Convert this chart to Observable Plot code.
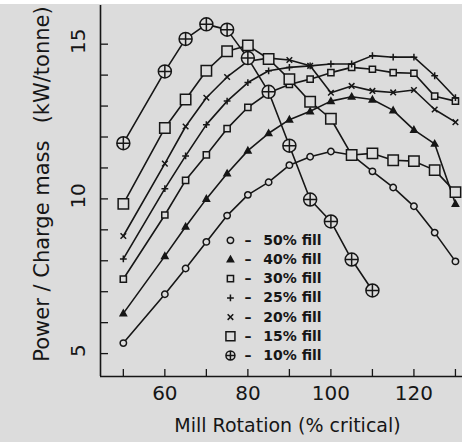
<!DOCTYPE html>
<html>
<head>
<meta charset="utf-8">
<script src="https://cdn.jsdelivr.net/npm/d3@7"></script>
<script src="https://cdn.jsdelivr.net/npm/@observablehq/plot@0.6"></script>
<style>
  html, body { margin: 0; padding: 0; background: #dcdcdc; }
  #chart { width: 462px; height: 442px; border-top: 4px solid #ffffff; box-sizing: border-box; }
  svg { display: block; }
</style>
</head>
<body>
<div id="chart"></div>
<script>
// ---- data ----
const rotation = [50, 60, 65, 70, 75, 80, 85, 90, 95, 100, 105, 110, 115, 120, 125, 130];
const fill50 = [5.34, 6.92, 7.75, 8.61, 9.46, 10.13, 10.54, 11.09, 11.36, 11.53, 11.42, 10.89, 10.37, 9.76, 8.91, 7.98];
const fill40 = [6.30, 8.15, 9.10, 10.00, 10.82, 11.56, 12.12, 12.56, 12.83, 13.16, 13.30, 13.21, 12.86, 12.23, 11.78, 9.84];
const fill30 = [7.41, 9.48, 10.60, 11.42, 12.27, 12.96, 13.43, 13.70, 13.87, 14.08, 14.25, 14.19, 14.08, 14.06, 13.32, 13.16];
const fill25 = [8.06, 10.33, 11.39, 12.40, 13.16, 13.76, 14.14, 14.25, 14.30, 14.36, 14.36, 14.63, 14.58, 14.58, 13.98, 13.27];
const fill20 = [8.80, 11.14, 12.34, 13.27, 13.94, 14.45, 14.55, 14.49, 14.30, 13.43, 13.65, 13.49, 13.44, 13.52, 12.89, 12.48];
const fill15 = [9.84, 12.29, 13.21, 14.14, 14.77, 14.96, 14.52, 13.87, 13.14, 12.59, 11.42, 11.47, 11.25, 11.22, 10.93, 10.22];
const fill10 = [11.80, 14.12, 15.17, 15.64, 15.47, 14.55, 13.46, 11.72, 9.98, 9.27, 8.04, 7.04];
const seriesLabels = ["50% fill", "40% fill", "30% fill", "25% fill", "20% fill", "15% fill", "10% fill"];
const xTickLabels = [60, 80, 100, 120];
const yTickLabels = [5, 10, 15];
const xTitle = "Mill Rotation (% critical)";
const yTitle = "Power / Charge mass \u2002(kW/tonne)";

// ---- symbols ----
const rad = (size) => Math.sqrt(size / Math.PI);
const symCircle = {draw(c, s) { const r = rad(s); c.moveTo(r, 0); c.arc(0, 0, r, 0, 2 * Math.PI); }};
const symTriangle = {draw(c, s) { const r = rad(s); c.moveTo(0, -r); c.lineTo(r * 0.95, r * 0.7); c.lineTo(-r * 0.95, r * 0.7); c.closePath(); }};
const symSquare = {draw(c, s) { const r = rad(s); c.rect(-r, -r, 2 * r, 2 * r); }};
const symPlus = {draw(c, s) { const r = rad(s); c.moveTo(-r, 0); c.lineTo(r, 0); c.moveTo(0, -r); c.lineTo(0, r); }};
const symTimes = {draw(c, s) { const r = rad(s); c.moveTo(-r, -r); c.lineTo(r, r); c.moveTo(-r, r); c.lineTo(r, -r); }};
const symCirclePlus = {draw(c, s) { const r = rad(s); c.moveTo(r, 0); c.arc(0, 0, r, 0, 2 * Math.PI); c.moveTo(-r, 0); c.lineTo(r, 0); c.moveTo(0, -r); c.lineTo(0, r); }};

const ink = "#161616";
const bg = "#dcdcdc";
const seriesValues = [fill50, fill40, fill30, fill25, fill20, fill15, fill10];
const seriesStyle = [
  {symbol: symCircle, r: 3.2, fill: bg},
  {symbol: symTriangle, r: 3.3, fill: ink},
  {symbol: symSquare, r: 3.1, fill: bg},
  {symbol: symPlus, r: 3.4, fill: "none"},
  {symbol: symTimes, r: 2.8, fill: "none"},
  {symbol: symSquare, r: 5.2, fill: bg},
  {symbol: symCirclePlus, r: 6.5, fill: bg}
];

const rows = [];
seriesValues.forEach((vals, i) => {
  vals.forEach((v, j) => rows.push({series: seriesLabels[i], rot: rotation[j], power: v, idx: i}));
});

const xDomain = [44.5, 131.7];
const yDomain = [4.26, 16.25];

// legend rows (placed in data space, inside the plot)
const legendX = 75.8;
const legendTop = 8.66;
const legendStep = 0.62;
const legendRows = seriesLabels.map((label, i) => ({label, i, x: legendX, y: legendTop - i * legendStep}));

const marks = [
  Plot.ruleX([xDomain[0]], {stroke: ink, strokeWidth: 1.6}),
  Plot.ruleY([yDomain[0]], {stroke: ink, strokeWidth: 1.6}),
  Plot.axisX({ticks: d3.range(50, 131, 10), tickSize: -7, tickFormat: () => "", label: null, stroke: ink, strokeWidth: 1.3}),
  Plot.axisX({ticks: xTickLabels, tickSize: 0, tickPadding: 9, fontSize: 20, label: null, fill: ink}),
  Plot.axisY({ticks: d3.range(5, 16, 1), tickSize: -8, tickFormat: () => "", label: null, stroke: ink, strokeWidth: 1.3}),
  Plot.axisY({ticks: yTickLabels, tickSize: 0, tickPadding: 0, rotate: -90, textAnchor: "middle", dx: -22, dy: -3, fontSize: 20, label: null, fill: ink}),
  Plot.line(rows, {x: "rot", y: "power", z: "series", stroke: ink, strokeWidth: 1.6}),
  ...seriesStyle.map((st, i) => Plot.dot(rows.filter(d => d.idx === i), {
    x: "rot", y: "power", symbol: st.symbol, r: st.r, fill: st.fill, stroke: ink, strokeWidth: 1.5
  })),
  ...seriesStyle.map((st, i) => Plot.dot(legendRows.filter(d => d.i === i), {
    x: "x", y: "y", symbol: st.symbol, r: Math.min(st.r, 4.5), fill: st.fill, stroke: ink, strokeWidth: 1.5
  })),
  Plot.text(legendRows, {x: "x", y: "y", text: d => "\u2013\u2002 " + d.label, dx: 14, textAnchor: "start", fontSize: 14, fontWeight: "bold", fill: ink}),
  Plot.text([xTitle], {frameAnchor: "bottom", textAnchor: "middle", dy: 55, dx: 6, fontSize: 19, fill: ink}),
  Plot.text([yTitle], {frameAnchor: "left", textAnchor: "middle", lineAnchor: "middle", rotate: -90, dx: -58, dy: -7, fontSize: 21, fill: ink})
];

const chart = Plot.plot({
  width: 462,
  height: 438,
  marginLeft: 100,
  marginRight: 0,
  marginTop: 1,
  marginBottom: 66,
  x: {domain: xDomain},
  y: {domain: yDomain},
  style: {background: "transparent", fontFamily: "'DejaVu Sans', sans-serif", color: ink},
  marks
});
document.getElementById("chart").appendChild(chart);
</script>
</body>
</html>
